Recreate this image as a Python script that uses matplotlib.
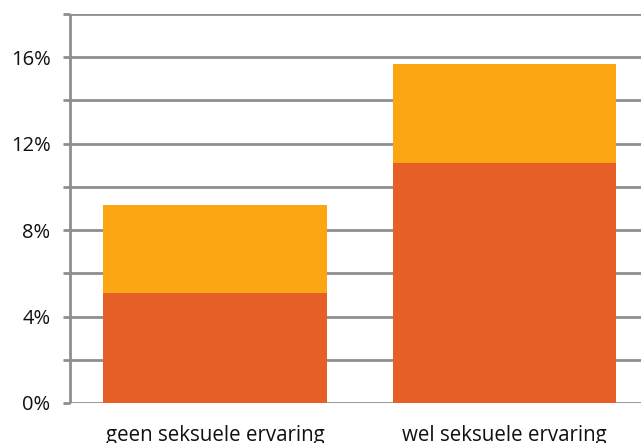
import matplotlib

matplotlib.use("Agg")
import matplotlib.pyplot as plt

# Data (percentages)
categories = ["geen seksuele ervaring", "wel seksuele ervaring"]
lower = [5.1, 11.1]
upper = [4.05, 4.58]   # stacked on top of "lower"
yticks = [0, 4, 8, 12, 16]
ygrid = [2, 6, 10, 14, 18]

COL_LOWER = "#E65F27"
COL_UPPER = "#FDA614"
GRID = "#8E8E8E"

plt.rcParams["font.family"] = ["Open Sans", "DejaVu Sans"]

fig = plt.figure(figsize=(6.41, 4.43), dpi=100)
ax = fig.add_axes([70 / 641, 40 / 443, 579 / 641, 389 / 443])

x = range(len(categories))
ax.bar(x, lower, width=0.773, color=COL_LOWER, zorder=3)
ax.bar(x, upper, width=0.773, bottom=lower, color=COL_UPPER, zorder=3)

ax.set_xlim(-0.502, 1.5)
ax.set_ylim(0, 18)
ax.set_yticks(yticks)
ax.set_yticklabels([f"{t}%" for t in yticks])
ax.set_yticks(ygrid, minor=True)
ax.set_xticks(list(x))
ax.set_xticklabels(categories)

ax.grid(True, axis="y", which="both", color=GRID, linewidth=2.0, zorder=1)
ax.tick_params(axis="y", which="both", length=5, width=2.0, color=GRID,
               pad=9, labelsize=14.5, labelcolor="#111111")
ax.tick_params(axis="x", length=0, pad=16, labelsize=14.8, labelcolor="#111111")

for side in ("top", "right", "bottom"):
    ax.spines[side].set_visible(False)
ax.spines["left"].set_color(GRID)
ax.spines["left"].set_linewidth(2.0)
ax.spines["left"].set_capstyle("butt")
ax.spines["left"].set_zorder(2)

fig.savefig("out.png", dpi=100)
